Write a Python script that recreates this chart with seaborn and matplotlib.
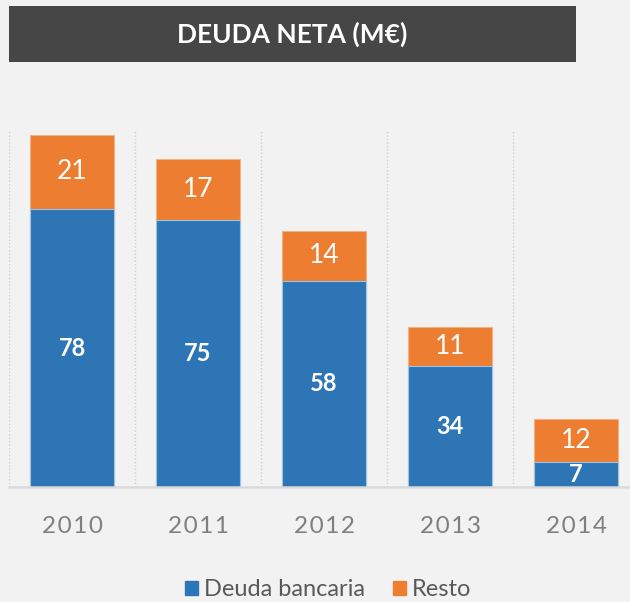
import matplotlib
matplotlib.use("Agg")
import matplotlib.pyplot as plt
import matplotlib.patches as mpatches
import seaborn as sns
import pandas as pd

years = ["2010", "2011", "2012", "2013", "2014"]
deuda_bancaria = [78, 75, 58, 34, 7]
resto = [21, 17, 14, 11, 12]
title = "DEUDA NETA (M€)"
series_names = ["Deuda bancaria", "Resto"]

BLUE = "#2e75b6"
ORANGE = "#ed7d31"
BG = "#f2f2f2"

sns.set_theme(style="white")
plt.rcParams["font.family"] = ["Lato", "DejaVu Sans"]

df = pd.DataFrame({"year": years, "bank": deuda_bancaria, "resto": resto})
df["total"] = df["bank"] + df["resto"]

W, H = 630, 602
fig = plt.figure(figsize=(W / 100, H / 100), dpi=100, facecolor=BG)
ax = fig.add_axes([9 / W, (H - 487) / H, 630 / W, (487 - 131) / H])
ax.set_facecolor(BG)

bw = 0.665
sns.barplot(data=df, x="year", y="total", color=ORANGE, width=bw, ax=ax,
            saturation=1, edgecolor="#f4b183", linewidth=0.8)
sns.barplot(data=df, x="year", y="bank", color=BLUE, width=bw, ax=ax,
            saturation=1, edgecolor="#9dc3e6", linewidth=0.8)

ax.set_ylim(0, 100)
ax.set_xlim(-0.5, len(years) - 0.5)
ax.set_xlabel("")
ax.set_ylabel("")
ax.set_yticks([])
for s in ["top", "right", "left"]:
    ax.spines[s].set_visible(False)
ax.spines["bottom"].set_color("#d9d9d9")
ax.spines["bottom"].set_linewidth(1.8)

# vertical dotted separators
for i in range(len(years)):
    ax.axvline(i - 0.5, color="#d0d0d0", linestyle=(0, (1, 1.5)), linewidth=1, zorder=0)

ax.set_xticks(range(len(years)))
ax.set_xticklabels(["\u200a".join(y) for y in years], color="#7f7f7f", fontsize=17.5)
ax.tick_params(axis="x", length=0, pad=21)

for i, (b, r) in enumerate(zip(deuda_bancaria, resto)):
    ax.text(i, b / 2, str(b), ha="center", va="center", color="white",
            fontsize=17, fontweight="bold")
    ax.text(i, b + r / 2, str(r), ha="center", va="center", color="white",
            fontsize=19)

# title banner
fig.patches.append(mpatches.Rectangle((8.8 / W, 1 - 62 / H), (576 - 8.8) / W, 56 / H,
                                      transform=fig.transFigure, facecolor="#464646",
                                      edgecolor="none", zorder=0))
fig.text(292 / W, 1 - 34 / H, title, ha="center", va="center", color="white",
         fontsize=19, fontweight="bold")

handles = [mpatches.Patch(color=BLUE, label=series_names[0]),
           mpatches.Patch(color=ORANGE, label=series_names[1])]
leg = fig.legend(handles=handles, loc="center", bbox_to_anchor=(328 / W, 1 - 590 / H),
                 ncol=2, frameon=False, fontsize=17, handlelength=0.55, handleheight=0.55,
                 handletextpad=0.25, columnspacing=1.2, borderpad=0)
for t in leg.get_texts():
    t.set_color("#595959")

fig.savefig("out.png", dpi=100, facecolor=BG)
